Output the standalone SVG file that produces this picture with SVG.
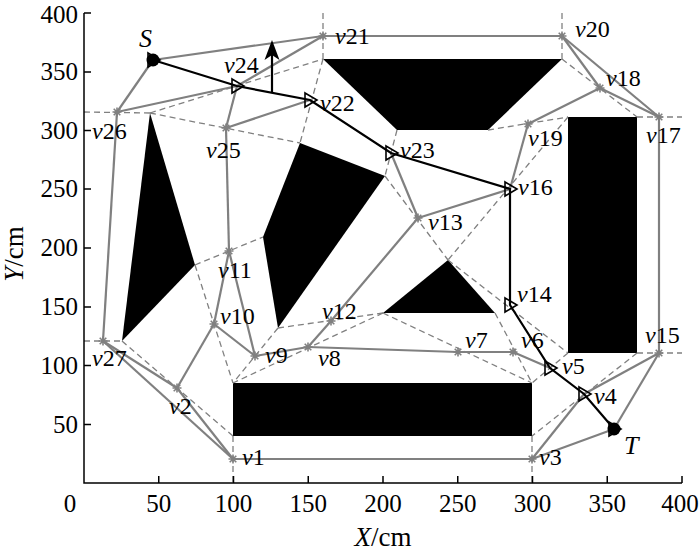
<svg xmlns="http://www.w3.org/2000/svg" xmlns:xlink="http://www.w3.org/1999/xlink" width="700" height="552" viewBox="0 0 700 552">
<style>
text{font-family:"Liberation Serif","Times New Roman",serif;font-size:24px;fill:#000}
.it{font-style:italic}
.tk{font-size:25px}
.lab{font-size:27px}
.st{font-size:26px;font-style:italic}
.obs{fill:#000;stroke:none}
.dash{stroke:#808080;stroke-width:1.3;stroke-dasharray:6 4;fill:none}
.edge{stroke:#808080;stroke-width:2.2;fill:none}
.star{stroke:#808080;stroke-width:1.6;fill:none}
.path{stroke:#000;stroke-width:2.2;fill:none}
.tri{stroke:#000;stroke-width:1.6;fill:none}
.axis{stroke:#000;stroke-width:1.5;fill:none}
</style>
<defs>
<path id="star" d="M-4.5,0H4.5M0,-4.5V4.5M-3.3,-3.3L3.3,3.3M-3.3,3.3L3.3,-3.3"/>
<path id="tri" d="M-5,-7L7,0L-5,7Z"/>
</defs>
<rect width="700" height="552" fill="#fff"/>

<g id="obstacles">
<polygon class="obs" points="122,341 150,113 195,265"/>
<polygon class="obs" points="263,237 300,143 385,176 278,328"/>
<polygon class="obs" points="323,59 562,59 488,130 397,130"/>
<rect class="obs" x="568" y="117" width="69" height="236"/>
<rect class="obs" x="233" y="383" width="299" height="53"/>
<polygon class="obs" points="383,313 448,260 495,313"/>
</g>

<g id="triangulation">
<line class="dash" x1="84" y1="112" x2="150" y2="113"/>
<line class="dash" x1="150" y1="113" x2="323" y2="59"/>
<line class="dash" x1="150" y1="113" x2="300" y2="143"/>
<line class="dash" x1="323" y1="59" x2="300" y2="143"/>
<line class="dash" x1="323" y1="13" x2="323" y2="59"/>
<line class="dash" x1="562" y1="13" x2="562" y2="59"/>
<line class="dash" x1="562" y1="59" x2="637" y2="117"/>
<line class="dash" x1="637" y1="117" x2="682" y2="117"/>
<line class="dash" x1="488" y1="130" x2="568" y2="117"/>
<line class="dash" x1="397" y1="130" x2="385" y2="176"/>
<line class="dash" x1="568" y1="117" x2="448" y2="260"/>
<line class="dash" x1="385" y1="176" x2="448" y2="260"/>
<line class="dash" x1="448" y1="260" x2="568" y2="353"/>
<line class="dash" x1="637" y1="353" x2="682" y2="353"/>
<line class="dash" x1="568" y1="353" x2="532" y2="383"/>
<line class="dash" x1="495" y1="313" x2="532" y2="383"/>
<line class="dash" x1="383" y1="313" x2="532" y2="383"/>
<line class="dash" x1="383" y1="313" x2="233" y2="383"/>
<line class="dash" x1="383" y1="313" x2="278" y2="328"/>
<line class="dash" x1="278" y1="328" x2="233" y2="383"/>
<line class="dash" x1="195" y1="265" x2="233" y2="383"/>
<line class="dash" x1="195" y1="265" x2="263" y2="237"/>
<line class="dash" x1="122" y1="341" x2="233" y2="436"/>
<line class="dash" x1="84" y1="341" x2="122" y2="341"/>
<line class="dash" x1="233" y1="436" x2="233" y2="483"/>
<line class="dash" x1="532" y1="436" x2="532" y2="483"/>
<line class="dash" x1="637" y1="353" x2="532" y2="436"/>
</g>

<g id="axes">
<path class="axis" d="M84,13V483H682"/>
<path class="axis" d="M84,13H91M84,72H91M84,130.5H91M84,189H91M84,248H91M84,307H91M84,365.5H91M84,424.5H91"/>
<path class="axis" d="M158.75,483V476M233.5,483V476M308.25,483V476M383,483V476M457.75,483V476M532.5,483V476M607.25,483V476M682,483V476"/>
<g text-anchor="end">
<text class="tk" x="78" y="23">400</text>
<text class="tk" x="78" y="80">350</text>
<text class="tk" x="78" y="138.5">300</text>
<text class="tk" x="78" y="197">250</text>
<text class="tk" x="78" y="256">200</text>
<text class="tk" x="78" y="315">150</text>
<text class="tk" x="78" y="373.5">100</text>
<text class="tk" x="78" y="432.5">50</text>
</g>
<g text-anchor="middle">
<text class="tk" x="70" y="512">0</text>
<text class="tk" x="158.75" y="512">50</text>
<text class="tk" x="233.5" y="512">100</text>
<text class="tk" x="308.25" y="512">150</text>
<text class="tk" x="383" y="512">200</text>
<text class="tk" x="457.75" y="512">250</text>
<text class="tk" x="532.5" y="512">300</text>
<text class="tk" x="607.25" y="512">350</text>
<text class="tk" x="680" y="512">400</text>
</g>
<text class="lab" x="383" y="546" text-anchor="middle"><tspan class="it">X</tspan>/cm</text>
<text class="lab" transform="translate(23,254) rotate(-90)" text-anchor="middle"><tspan class="it">Y</tspan>/cm</text>
</g>

<g id="connectors">
<line class="edge" x1="153" y1="60" x2="323" y2="36"/>
<line class="edge" x1="153" y1="60" x2="117" y2="112"/>
<line class="edge" x1="117" y1="112" x2="237" y2="86"/>
<line class="edge" x1="237" y1="86" x2="323" y2="36"/>
<line class="edge" x1="237" y1="86" x2="226" y2="128"/>
<line class="edge" x1="226" y1="128" x2="310" y2="100"/>
<line class="edge" x1="323" y1="36" x2="562" y2="36"/>
<line class="edge" x1="562" y1="36" x2="600" y2="88"/>
<line class="edge" x1="562" y1="36" x2="659" y2="117"/>
<line class="edge" x1="600" y1="88" x2="659" y2="117"/>
<line class="edge" x1="600" y1="88" x2="528" y2="124"/>
<line class="edge" x1="528" y1="124" x2="510" y2="189"/>
<line class="edge" x1="659" y1="117" x2="659" y2="353"/>
<line class="edge" x1="391" y1="153" x2="418" y2="218"/>
<line class="edge" x1="418" y1="218" x2="510" y2="189"/>
<line class="edge" x1="418" y1="218" x2="331" y2="321"/>
<line class="edge" x1="331" y1="321" x2="308" y2="347"/>
<line class="edge" x1="308" y1="347" x2="255" y2="356"/>
<line class="edge" x1="255" y1="356" x2="214" y2="324"/>
<line class="edge" x1="255" y1="356" x2="229" y2="251"/>
<line class="edge" x1="214" y1="324" x2="229" y2="251"/>
<line class="edge" x1="214" y1="324" x2="177" y2="388"/>
<line class="edge" x1="229" y1="251" x2="226" y2="128"/>
<line class="edge" x1="117" y1="112" x2="103" y2="341"/>
<line class="edge" x1="103" y1="341" x2="177" y2="388"/>
<line class="edge" x1="103" y1="341" x2="233" y2="459"/>
<line class="edge" x1="177" y1="388" x2="233" y2="459"/>
<line class="edge" x1="233" y1="459" x2="532" y2="459"/>
<line class="edge" x1="532" y1="459" x2="584" y2="394"/>
<line class="edge" x1="532" y1="459" x2="614" y2="429"/>
<line class="edge" x1="659" y1="353" x2="584" y2="394"/>
<line class="edge" x1="659" y1="353" x2="614" y2="429"/>
<line class="edge" x1="308" y1="347" x2="458" y2="352"/>
<line class="edge" x1="458" y1="352" x2="513" y2="352"/>
<line class="edge" x1="513" y1="352" x2="550" y2="368"/>
</g>

<g id="route">
<polyline class="path" points="153,60 237,86 310,100 391,153 510,189 510,305 550,368 584,394 614,429"/>
<line class="path" x1="272" y1="92" x2="272" y2="52"/>
<path d="M272,40L279.5,60L272,55L264.5,60Z" fill="#000"/>
</g>

<g id="nodes">
<g id="S"><circle cx="153" cy="60" r="6.5" fill="#000"/><use href="#tri" x="153" y="60" class="tri"/><text class="st" x="139" y="47">S</text></g>
<g id="T"><circle cx="614" cy="429" r="6.5" fill="#000"/><use href="#tri" x="614" y="429" class="tri"/><text class="st" x="624" y="454">T</text></g>
<g id="v1"><use href="#star" x="233" y="459" class="star"/><text x="242" y="465"><tspan class="it">v</tspan>1</text></g>
<g id="v2"><use href="#star" x="177" y="388" class="star"/><text x="169" y="414"><tspan class="it">v</tspan>2</text></g>
<g id="v3"><use href="#star" x="532" y="459" class="star"/><text x="539" y="465"><tspan class="it">v</tspan>3</text></g>
<g id="v4"><use href="#tri" x="584" y="394" class="tri"/><text x="594" y="404"><tspan class="it">v</tspan>4</text></g>
<g id="v5"><use href="#tri" x="550" y="368" class="tri"/><text x="562" y="374"><tspan class="it">v</tspan>5</text></g>
<g id="v6"><use href="#star" x="513" y="352" class="star"/><text x="521" y="348"><tspan class="it">v</tspan>6</text></g>
<g id="v7"><use href="#star" x="458" y="352" class="star"/><text x="465" y="348"><tspan class="it">v</tspan>7</text></g>
<g id="v8"><use href="#star" x="308" y="347" class="star"/><text x="318" y="366"><tspan class="it">v</tspan>8</text></g>
<g id="v9"><use href="#star" x="255" y="356" class="star"/><text x="265" y="363"><tspan class="it">v</tspan>9</text></g>
<g id="v10"><use href="#star" x="214" y="324" class="star"/><text x="220" y="324"><tspan class="it">v</tspan>10</text></g>
<g id="v11"><use href="#star" x="229" y="251" class="star"/><text x="218" y="278"><tspan class="it">v</tspan>11</text></g>
<g id="v12"><use href="#star" x="331" y="321" class="star"/><text x="322" y="319"><tspan class="it">v</tspan>12</text></g>
<g id="v13"><use href="#star" x="418" y="218" class="star"/><text x="428" y="230"><tspan class="it">v</tspan>13</text></g>
<g id="v14"><use href="#tri" x="510" y="305" class="tri"/><text x="517" y="302"><tspan class="it">v</tspan>14</text></g>
<g id="v15"><use href="#star" x="659" y="353" class="star"/><text x="645" y="343"><tspan class="it">v</tspan>15</text></g>
<g id="v16"><use href="#tri" x="510" y="189" class="tri"/><text x="518" y="195"><tspan class="it">v</tspan>16</text></g>
<g id="v17"><use href="#star" x="659" y="117" class="star"/><text x="646" y="143"><tspan class="it">v</tspan>17</text></g>
<g id="v18"><use href="#star" x="600" y="88" class="star"/><text x="606" y="86"><tspan class="it">v</tspan>18</text></g>
<g id="v19"><use href="#star" x="528" y="124" class="star"/><text x="528" y="146"><tspan class="it">v</tspan>19</text></g>
<g id="v20"><use href="#star" x="562" y="36" class="star"/><text x="575" y="37"><tspan class="it">v</tspan>20</text></g>
<g id="v21"><use href="#star" x="323" y="36" class="star"/><text x="335" y="44"><tspan class="it">v</tspan>21</text></g>
<g id="v22"><use href="#tri" x="310" y="100" class="tri"/><text x="320" y="111"><tspan class="it">v</tspan>22</text></g>
<g id="v23"><use href="#tri" x="391" y="153" class="tri"/><text x="400" y="158"><tspan class="it">v</tspan>23</text></g>
<g id="v24"><use href="#tri" x="237" y="86" class="tri"/><text x="224" y="73"><tspan class="it">v</tspan>24</text></g>
<g id="v25"><use href="#star" x="226" y="128" class="star"/><text x="206" y="158"><tspan class="it">v</tspan>25</text></g>
<g id="v26"><use href="#star" x="117" y="112" class="star"/><text x="92" y="139"><tspan class="it">v</tspan>26</text></g>
<g id="v27"><use href="#star" x="103" y="341" class="star"/><text x="92" y="366"><tspan class="it">v</tspan>27</text></g>
</g>
</svg>
